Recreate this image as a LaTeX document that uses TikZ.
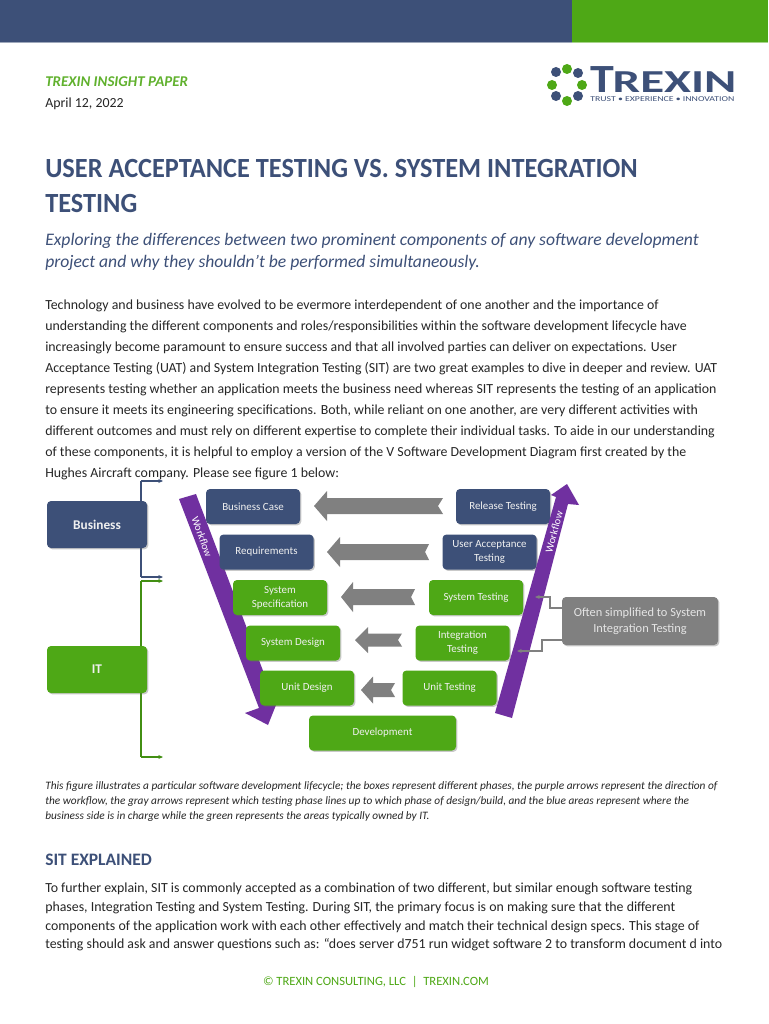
\documentclass[tikz,border=0pt]{standalone}
\usepackage{fontspec}
\setmainfont{Carlito}
\usetikzlibrary{shadows,arrows.meta}
\definecolor{navy}{HTML}{3D5078}
\definecolor{leaf}{HTML}{4EA816}
\definecolor{violet2}{HTML}{7030A0}
\definecolor{stone}{HTML}{808080}
\definecolor{ink}{HTML}{262626}
\tikzset{
 x=0.75pt,y=-0.75pt,
 box/.style={rounded corners=3pt,inner sep=0pt,align=center,text=white!94!black,font=\fontsize{8.2}{10.5}\selectfont,drop shadow={shadow xshift=1pt,shadow yshift=-1pt,opacity=.35,fill=black!60}},
 bluebox/.style={box,fill=navy},
 greenbox/.style={box,fill=leaf},
 greybox/.style={box,fill=stone,text=white!90!black},
 bodyline/.style={anchor=base west,inner sep=0pt,text=ink,font=\fontsize{10.4}{12}\selectfont},
 capline/.style={anchor=base west,inner sep=0pt,text=ink,font=\fontsize{8.5}{10}\itshape\selectfont},
 titleline/.style={anchor=base west,inner sep=0pt,text=navy,font=\fontsize{20.8}{23}\bfseries\selectfont},
 subline/.style={anchor=base west,inner sep=0pt,text=navy,font=\fontsize{13.2}{16}\itshape\selectfont},
 tiparrow/.style={-{Stealth[length=3.5pt,width=3pt]},line width=.8pt},
 grey arrow/.style={fill=stone,draw=none},
 workflow/.style={fill=violet2,draw=none},
 dot/.style={circle,inner sep=0pt,minimum size=7.5pt},
}
\newcommand{\pbox}[7]{\node[#1,minimum width=#6*0.75pt,minimum height=#7*0.75pt] (#2) at (#3,#4) {#5};}
\newcommand{\gcarrow}[7]{% tip, barb, tail, notch, ymid, head half, shaft half
 \fill[grey arrow] (#1,#5) -- (#2,#5-#6) -- (#2,#5-#7) -- (#3,#5-#7) -- (#4,#5) -- (#3,#5+#7) -- (#2,#5+#7) -- (#2,#5+#6) -- cycle;}
\begin{document}
\begin{tikzpicture}
\useasboundingbox (0,0) rectangle (768,1024);
\fill[white] (0,0) rectangle (768,1024);
% header
\fill[navy] (0,0) rectangle (572,42);
\fill[leaf] (572,0) rectangle (768,42);
\fill[navy!50!white] (0,42) rectangle (572,43);
\fill[leaf!50!white] (572,42) rectangle (768,43);
\node[anchor=base west,inner sep=0pt,text=leaf!90!white,font=\fontsize{11.2}{13}\bfseries\itshape\selectfont] (kicker) at (45,86) {TREXIN INSIGHT PAPER};
\node[bodyline] (date) at (45,108) {April 12, 2022};
% logo
\foreach \n/\a/\b/\c in {a/556/72/navy,b/567/69/leaf,c/578/73/navy,d/552/85/leaf,e/582/85/leaf,f/556/96/navy,g/567/101/leaf,h/578/96/navy}
  \node[dot,fill=\c] (logo\n) at (\a,\b) {};
\node[anchor=base west,inner sep=0pt,text=navy,font=\fontsize{30}{30}\bfseries\selectfont] (logotext) at (590,93) {\scalebox{1.2}[1]{T}\kern-1pt{\fontsize{24}{24}\selectfont\scalebox{1.53}[1]{REXIN}}};
\node[anchor=base west,inner sep=0pt,text=navy,font=\fontsize{5.6}{6}\selectfont] (logosub) at (590,102) {\scalebox{1.31}[1]{TRUST • EXPERIENCE • INNOVATION}};
% title
\node[titleline] (t1) at (45,177) {\scalebox{.95}[1]{USER ACCEPTANCE TESTING VS. SYSTEM INTEGRATION}};
\node[titleline] (t2) at (45,212) {\scalebox{.95}[1]{TESTING}};
\node[subline] (s1) at (45,245) {Exploring the differences between two prominent components of any software development};
\node[subline] (s2) at (45,267) {project and why they shouldn’t be performed simultaneously.};
% body
\node[bodyline] (b1) at (45,309) {Technology and business have evolved to be evermore interdependent of one another and the importance of};
\node[bodyline] (b2) at (45,330) {understanding the different components and roles/responsibilities within the software development lifecycle have};
\node[bodyline] (b3) at (45,351) {increasingly become paramount to ensure success and that all involved parties can deliver on expectations. User};
\node[bodyline] (b4) at (45,372) {Acceptance Testing (UAT) and System Integration Testing (SIT) are two great examples to dive in deeper and review. UAT};
\node[bodyline] (b5) at (45,393) {represents testing whether an application meets the business need whereas SIT represents the testing of an application};
\node[bodyline] (b6) at (45,414) {to ensure it meets its engineering specifications. Both, while reliant on one another, are very different activities with};
\node[bodyline] (b7) at (45,435) {different outcomes and must rely on different expertise to complete their individual tasks. To aide in our understanding};
\node[bodyline] (b8) at (45,456) {of these components, it is helpful to employ a version of the V Software Development Diagram first created by the};
\node[bodyline] (b9) at (45,477) {Hughes Aircraft company. Please see figure 1 below:};
% brackets
\coordinate (bt) at (163,481); \coordinate (bm) at (163,577);
\coordinate (it) at (163,581); \coordinate (ib) at (163,757);
\coordinate (bc) at (141,481); \coordinate (bd) at (141,577);
\coordinate (ic) at (141,581); \coordinate (id) at (141,757);
\draw[navy,tiparrow] (bc) -- (bt);
\draw[navy,tiparrow] (bd) -- (bm);
\draw[navy,line width=.8pt] (bc) -- (bd);
\draw[leaf!85!black,tiparrow] (ic) -- (it);
\draw[leaf!85!black,tiparrow] (id) -- (ib);
\draw[leaf!85!black,line width=.8pt] (ic) -- (id);
% side boxes
\pbox{bluebox,font=\fontsize{10}{12}\bfseries\selectfont}{business}{97}{524.5}{Business}{100}{47}
\pbox{greenbox,font=\fontsize{10}{12}\bfseries\selectfont}{itbox}{97}{669.5}{IT}{100}{47}
% grey arrows
\gcarrow{314}{327}{443}{438}{506}{15}{8}
\gcarrow{327}{340}{429}{425}{552}{15}{8}
\gcarrow{341}{353}{415}{411}{597}{15}{8}
\gcarrow{355}{368}{402}{398}{640}{13}{6.5}
\gcarrow{361}{373}{395}{391}{690}{13.5}{7}
% purple down
\fill[workflow] (179,499) -- (196,494) -- (276,705) -- (268,725) -- (245,713) -- (259,708) -- cycle;
% V boxes
\pbox{bluebox}{bcase}{253}{506.5}{Business Case}{94}{35}
\pbox{bluebox}{req}{266.5}{552}{Requirements}{94}{35}
\pbox{greenbox}{sspec}{280}{597.5}{System\\Specification}{94}{35}
\pbox{greenbox}{sdes}{293}{643}{System Design}{94}{35}
\pbox{greenbox}{udes}{307}{688}{Unit Design}{94}{35}
\pbox{greenbox}{dev}{382.5}{733}{Development}{147}{35}
\pbox{bluebox}{rel}{503}{506.5}{Release Testing}{94}{35}
\pbox{bluebox}{uat}{489.5}{552}{User Acceptance\\Testing}{94}{35}
\pbox{greenbox}{stest}{476}{597.5}{System Testing}{94}{35}
\pbox{greenbox}{itest}{462.5}{643}{Integration\\Testing}{94}{35}
\pbox{greenbox}{utest}{449.5}{688}{Unit Testing}{94}{35}
% purple up
\fill[workflow] (495,713) -- (512,718) -- (568,504) -- (579,505) -- (567,484) -- (551,495) -- (556,497) -- cycle;
\node[text=white,rotate=-70,inner sep=0pt,font=\fontsize{8}{9}\selectfont] (wf1) at (202,537) {Workflow};
\node[text=white,rotate=75,inner sep=0pt,font=\fontsize{8}{9}\selectfont] (wf2) at (554,532) {Workflow};
% grey note
\pbox{greybox,font=\fontsize{9.3}{12}\selectfont}{note}{640}{621}{Often simplified to System\\Integration Testing}{156}{48}
\coordinate (n1) at (535,597); \coordinate (n2) at (517,651);
\draw[stone,tiparrow] (note.west |- 0,608) -- (550,608) -- (550,597) -- (n1);
\draw[stone,tiparrow] (note.west |- 0,640) -- (542,640) -- (542,651) -- (n2);
% caption
\node[capline] (c1) at (45,789) {This figure illustrates a particular software development lifecycle; the boxes represent different phases, the purple arrows represent the direction of};
\node[capline] (c2) at (45,804) {the workflow, the gray arrows represent which testing phase lines up to which phase of design/build, and the blue areas represent where the};
\node[capline] (c3) at (45,819) {business side is in charge while the green represents the areas typically owned by IT.};
% section
\node[anchor=base west,inner sep=0pt,text=navy,font=\fontsize{13.1}{15}\bfseries\selectfont] (h2) at (45,865) {SIT EXPLAINED};
\node[bodyline] (d1) at (45,892) {To further explain, SIT is commonly accepted as a combination of two different, but similar enough software testing};
\node[bodyline] (d2) at (45,911) {phases, Integration Testing and System Testing. During SIT, the primary focus is on making sure that the different};
\node[bodyline] (d3) at (45,930) {components of the application work with each other effectively and match their technical design specs. This stage of};
\node[bodyline] (d4) at (45,948) {testing should ask and answer questions such as: “does server d751 run widget software 2 to transform document d into};
% footer
\node[anchor=base,inner sep=0pt,text=leaf,font=\fontsize{9.45}{11}\selectfont] (foot) at (376,985) {© TREXIN CONSULTING, LLC \ | \ TREXIN.COM};
\end{tikzpicture}
\end{document}
